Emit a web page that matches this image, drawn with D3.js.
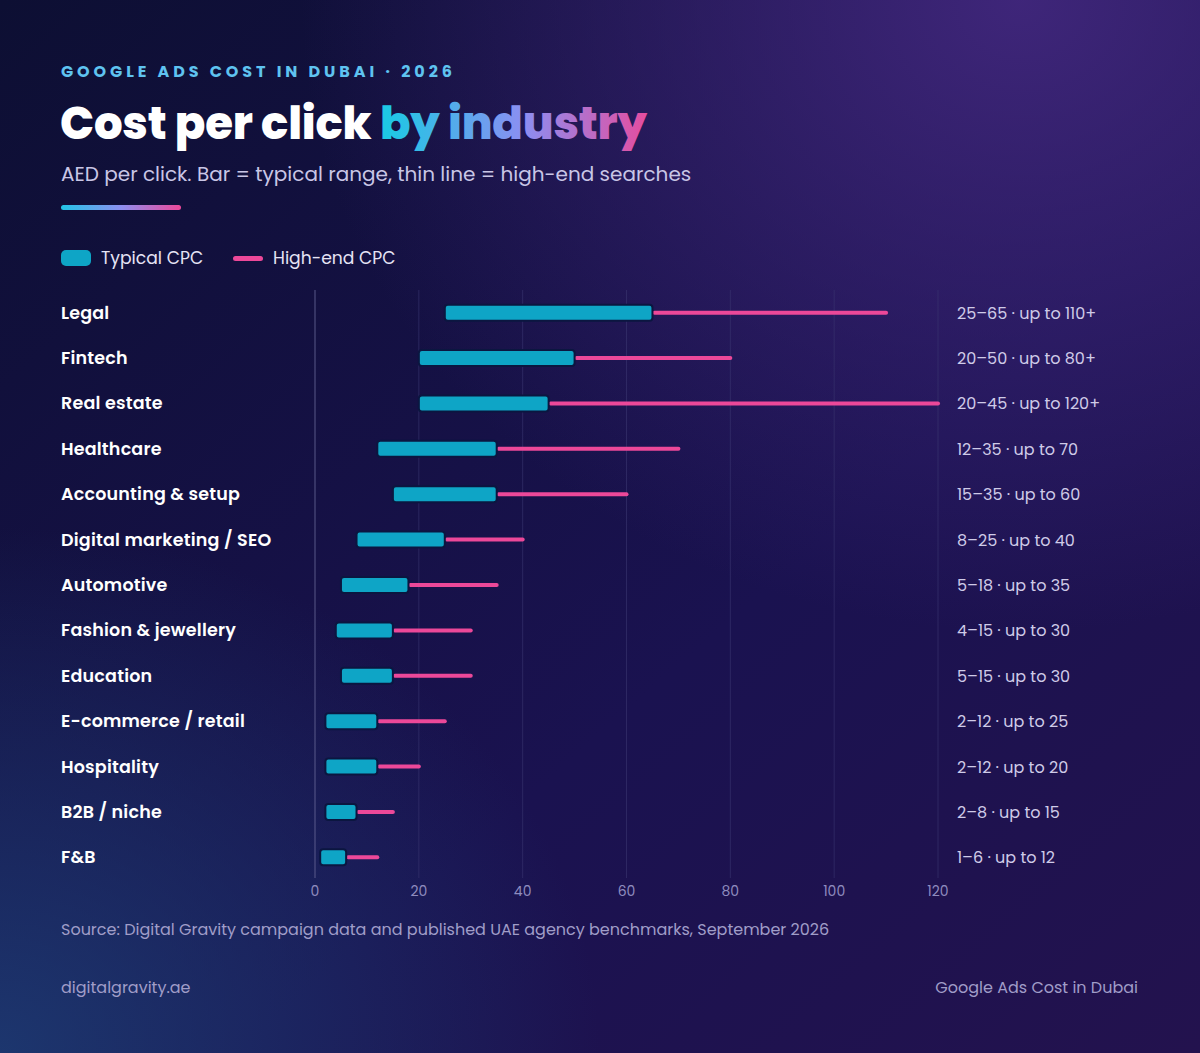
<!DOCTYPE html>
<html><head><meta charset="utf-8">
<script src="https://cdn.jsdelivr.net/npm/d3@7"></script>
<style>body{margin:0;background:#140f3a;}svg{display:block}</style></head>
<body><svg id="c" width="1200" height="1053"></svg>
<script>
const categories=["Legal","Fintech","Real estate","Healthcare","Accounting & setup","Digital marketing / SEO","Automotive","Fashion & jewellery","Education","E-commerce / retail","Hospitality","B2B / niche","F&B"];
const typicalLow=[25,20,20,12,15,8,5,4,5,2,2,2,1];
const typicalHigh=[65,50,45,35,35,25,18,15,15,12,12,8,6];
const highEnd=[110,80,120,70,60,40,35,30,30,25,20,15,12];
const rangeLabels=["25–65 · up to 110+","20–50 · up to 80+","20–45 · up to 120+","12–35 · up to 70","15–35 · up to 60","8–25 · up to 40","5–18 · up to 35","4–15 · up to 30","5–15 · up to 30","2–12 · up to 25","2–12 · up to 20","2–8 · up to 15","1–6 · up to 12"];
const ticks=[0,20,40,60,80,100,120];

const svg=d3.select("#c"),F="Poppins, Inter, 'Open Sans', sans-serif";
const defs=svg.append("defs");
const bg=defs.append("linearGradient").attr("id","bg").attr("x1",0).attr("y1",0).attr("x2",1).attr("y2",1);
bg.append("stop").attr("offset","0").attr("stop-color","#0d0f33");
bg.append("stop").attr("offset","0.6").attr("stop-color","#1a1250");
bg.append("stop").attr("offset","1").attr("stop-color","#23124e");
const rg=defs.append("radialGradient").attr("id","rg").attr("cx",0.85).attr("cy",0).attr("r",0.6);
rg.append("stop").attr("offset","0").attr("stop-color","#43287f").attr("stop-opacity",0.9);
rg.append("stop").attr("offset","1").attr("stop-color","#43287f").attr("stop-opacity",0);
const rg2=defs.append("radialGradient").attr("id","rg2").attr("cx",0).attr("cy",1).attr("r",0.5);
rg2.append("stop").attr("offset","0").attr("stop-color","#1d3a72").attr("stop-opacity",0.9);
rg2.append("stop").attr("offset","1").attr("stop-color","#1d3a72").attr("stop-opacity",0);
const tg=defs.append("linearGradient").attr("id","tg");
tg.append("stop").attr("offset","0").attr("stop-color","#22c4e6");
tg.append("stop").attr("offset","0.5").attr("stop-color","#8d8ff0");
tg.append("stop").attr("offset","1").attr("stop-color","#ec4899");
const tg2=defs.append("linearGradient").attr("id","tg2").attr("gradientUnits","userSpaceOnUse").attr("x1",388).attr("x2",657).attr("y1",0).attr("y2",0);
tg2.append("stop").attr("offset","0").attr("stop-color","#1ec8e4");
tg2.append("stop").attr("offset","0.5").attr("stop-color","#8b8ff2");
tg2.append("stop").attr("offset","1").attr("stop-color","#ec4899");
svg.append("rect").attr("width",1200).attr("height",1053).attr("fill","url(#bg)");
svg.append("rect").attr("width",1200).attr("height",1053).attr("fill","url(#rg)");
svg.append("rect").attr("width",1200).attr("height",1053).attr("fill","url(#rg2)");

svg.append("text").attr("x",61).attr("y",77).attr("fill","#5fc3f0").attr("font-family",F).attr("font-weight",700).attr("font-size",16).attr("letter-spacing",3.9).text("GOOGLE ADS COST IN DUBAI · 2026");
const t=svg.append("text").attr("x",60).attr("y",139).attr("font-family",F).attr("font-weight",800).attr("font-size",45).attr("letter-spacing",-0.2);
t.append("tspan").attr("fill","#fff").text("Cost per click ");
t.append("tspan").attr("fill","url(#tg2)").text("by industry");
svg.append("text").attr("x",61).attr("y",181).attr("fill","#c9c6e6").attr("font-family",F).attr("font-size",20).text("AED per click. Bar = typical range, thin line = high-end searches");
svg.append("rect").attr("x",61).attr("y",205).attr("width",120).attr("height",5).attr("rx",2.5).attr("fill","url(#tg)");
svg.append("rect").attr("x",61).attr("y",250).attr("width",30).attr("height",16).attr("rx",5).attr("fill","#0ea5c6");
svg.append("text").attr("x",101).attr("y",264).attr("fill","#e6e4f5").attr("font-family",F).attr("font-size",17.2).text("Typical CPC");
svg.append("rect").attr("x",233).attr("y",256).attr("width",30).attr("height",5).attr("rx",2.5).attr("fill","#ec4899");
svg.append("text").attr("x",273).attr("y",264).attr("fill","#e6e4f5").attr("font-family",F).attr("font-size",17.2).text("High-end CPC");

const x=d3.scaleLinear().domain([0,120]).range([315,938]);
const y=d3.scaleBand().domain(categories).range([290,880]).paddingInner(0);
const g=svg.append("g");
g.selectAll(".gl").data(ticks).join("line").attr("x1",d=>x(d)).attr("x2",d=>x(d)).attr("y1",290).attr("y2",878)
 .attr("stroke",d=>d===0?"#6a6a9a":"#3a3670").attr("stroke-width",1).attr("opacity",d=>d===0?0.8:0.6);
g.selectAll(".tk").data(ticks).join("text").attr("x",d=>x(d)).attr("y",896).attr("text-anchor","middle").attr("fill","#8f8cbf").attr("font-family",F).attr("font-size",14).text(d=>d);
const rows=g.selectAll(".r").data(categories).join("g").attr("transform",d=>`translate(0,${y(d)+y.bandwidth()/2})`);
rows.append("text").attr("x",61).attr("y",6).attr("fill","#fff").attr("font-family",F).attr("font-weight",600).attr("font-size",17.5).attr("letter-spacing",0.2).text(d=>d);
rows.append("line").attr("x1",(d,i)=>x(typicalHigh[i])+2).attr("x2",(d,i)=>x(highEnd[i])).attr("stroke","#ec4899").attr("stroke-width",4).attr("stroke-linecap","round");
rows.append("rect").attr("x",(d,i)=>x(typicalLow[i])).attr("y",-8).attr("width",(d,i)=>x(typicalHigh[i])-x(typicalLow[i])).attr("height",16).attr("rx",3)
 .attr("fill","#0ea5c6").attr("stroke","#0b1640").attr("stroke-width",2);
rows.append("text").attr("x",957).attr("y",6).attr("fill","#cfcbe8").attr("font-family",F).attr("font-size",16).text((d,i)=>rangeLabels[i]);

svg.append("text").attr("x",61).attr("y",935).attr("fill","#a09dc8").attr("font-family",F).attr("font-size",16).text("Source: Digital Gravity campaign data and published UAE agency benchmarks, September 2026");
svg.append("text").attr("x",61).attr("y",993).attr("fill","#a09dc8").attr("font-family",F).attr("font-size",16).text("digitalgravity.ae");
svg.append("text").attr("x",1138).attr("y",993).attr("text-anchor","end").attr("fill","#a09dc8").attr("font-family",F).attr("font-size",16).text("Google Ads Cost in Dubai");
</script></body></html>
